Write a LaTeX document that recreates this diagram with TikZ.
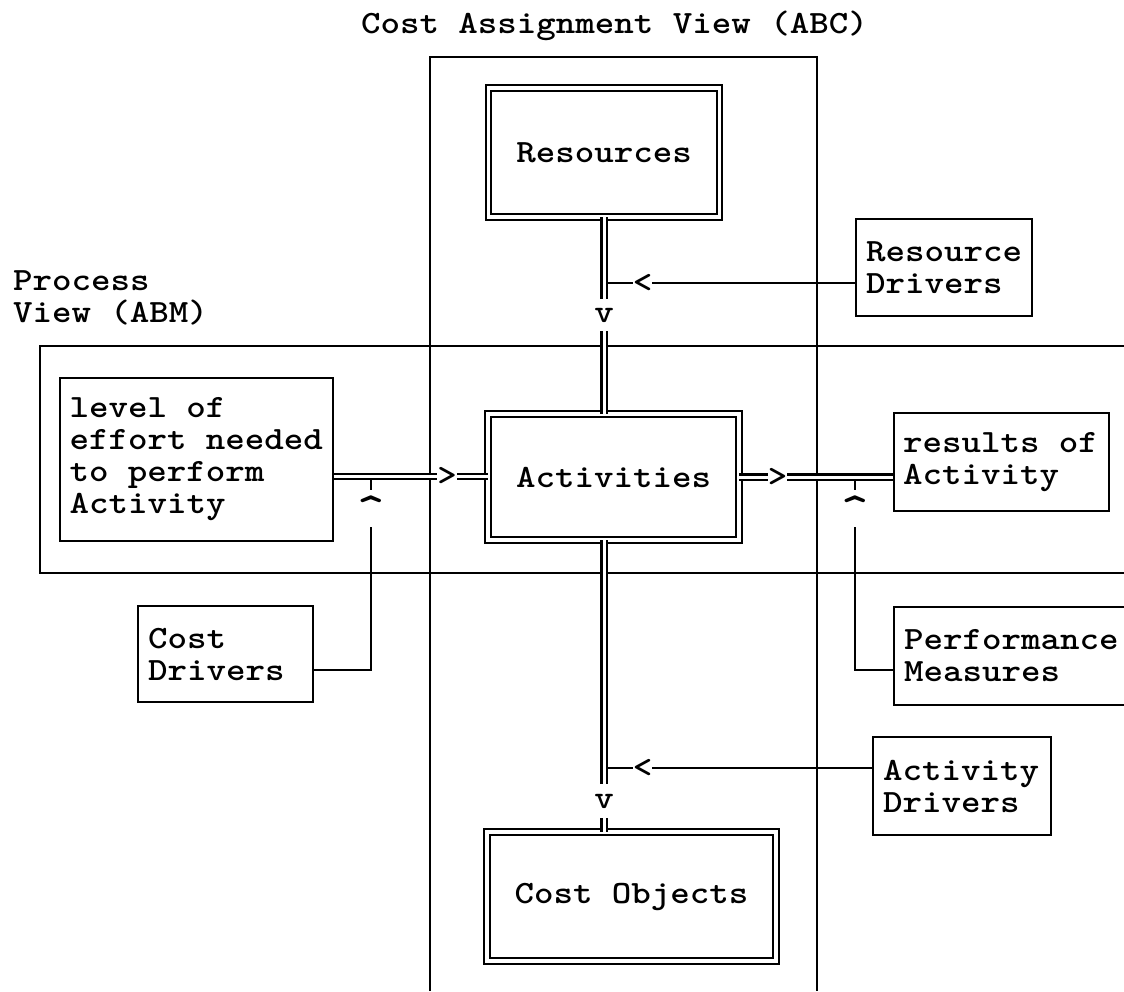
\documentclass[tikz,border=0pt]{standalone}
\usepackage{fontspec}
\newfontfamily\monoface{lmmonolt10-bold.otf}[FakeStretch=1.1429]
\newcommand{\cfont}{\monoface\fontsize{32.5}{32}\selectfont}
\newcommand{\caretfont}{\monoface\fontsize{46}{46}\selectfont}
\newcommand{\monospacing}{\spaceskip=19.5pt\relax\xspaceskip=19.5pt\relax}
\tikzset{
  txt/.style={font=\cfont, inner sep=0pt, outer sep=0pt,
    execute at begin node=\monospacing},
  glyph/.style={font=\cfont, inner sep=0pt, outer sep=0pt},
  caret/.style={font=\caretfont, inner sep=0pt, outer sep=0pt, anchor=north},
  frame/.style={line width=2pt},
  wire/.style={line width=2pt},
  dwire/.style={double, line width=2.2pt, double distance=3pt},
  sbox/.style={draw, line width=2pt, font=\cfont, align=left, inner xsep=10pt,
    inner ysep=0pt, outer sep=0pt, anchor=north west,
    execute at begin node=\monospacing},
  dbox/.style={draw, double, line width=2.2pt, double distance=3.2pt, font=\cfont,
    inner sep=0pt, outer sep=0pt, execute at begin node=\monospacing},
}
\begin{document}
\begin{tikzpicture}[x=1pt, y=-1pt]
\useasboundingbox (0,0) rectangle (1124,991);
\clip (0,0) rectangle (1124,991);

% the two views
\draw[frame] (429.5,991) -- (429.5,57) -- (817,57) -- (817,991);
\draw[frame] (1124,346) -- (40,346) -- (40,573) -- (1124,573);
\node[txt, anchor=base west] (abc) at (361,33) {Cost Assignment View (ABC)};
\node[txt, anchor=north west, align=left] (abm) at (13,271) {Process\\View (ABM)};

% main chain
\node[dbox, minimum width=231pt, minimum height=129pt] (res) at (604,152.5) {Resources};
\node[dbox, minimum width=251pt, minimum height=126pt] (act) at (613.5,477) {Activities};
\node[dbox, minimum width=289pt, minimum height=129pt] (cobj) at (631.5,896.5) {Cost Objects};

% side boxes
\node[sbox, text width=156pt, minimum height=97pt] (rdrv) at (856,219) {Resource\\Drivers};
\node[sbox, inner xsep=9.5pt, text width=254pt, minimum height=163pt] (effort) at (60,378) {level of\\effort needed\\to perform\\Activity};
\node[sbox, text width=155pt, minimum height=96pt] (cdrv) at (138,606) {Cost\\Drivers};
\node[sbox, inner xsep=9pt, text width=197pt, minimum height=98pt] (results) at (894,413) {results of\\Activity};
\node[sbox, text width=230pt, minimum height=98pt] (perf) at (894,607) {Performance\\Measures};
\node[sbox, text width=158pt, minimum height=98pt] (adrv) at (873,737) {Activity\\Drivers};

% arrow glyphs
\node[glyph, inner ysep=9pt] (vres) at (604,315) {v};
\node[glyph, inner ysep=10pt] (vact) at (604,801) {v};
\node[glyph] (ltres) at (642.5,283) {<};
\node[glyph] (ltact) at (642.5,768) {<};
\node[glyph] (gtin) at (447,476.5) {>};
\node[glyph] (gtout) at (777.5,477) {>};
\node[caret] (upin) at (371,496) {\textasciicircum};
\node[caret] (upout) at (855,496) {\textasciicircum};

% driver feeds (single lines)
\draw[wire] (rdrv.west |- ltres) -- (ltres.east);
\draw[wire] (ltres.west) -- (ltres.west -| res.south);
\draw[wire] (adrv.west |- ltact) -- (ltact.east);
\draw[wire] (ltact.west) -- (ltact.west -| vact);

\coordinate (instub) at (371,490);
\coordinate (infoot) at (371,527);
\coordinate (cdj) at (371,670);
\draw[wire] (instub |- gtin) -- (instub);
\draw[wire] (cdrv.east |- cdj) -- (cdj) -- (infoot);

\coordinate (outstub) at (855,490);
\coordinate (outfoot) at (855,527);
\coordinate (pmj) at (855,670);
\draw[wire] (outstub |- gtout) -- (outstub);
\draw[wire] (perf.west |- pmj) -- (pmj) -- (outfoot);

% flows (double lines)
\draw[dwire] (res.south) -- (vres.north);
\draw[dwire] (vres.south) -- (vres.south |- act.north);
\draw[dwire] (act.south -| vact) -- (vact.north);
\draw[dwire] (vact.south) -- (vact.south |- cobj.north);
\draw[dwire, shorten <=1pt] (effort.east |- gtin) -- (gtin.west);
\draw[dwire] (gtin.east) -- (gtin.east -| act.west);
\draw[dwire] (act.east |- gtout) -- (gtout.west);
\draw[dwire, shorten >=1pt] (gtout.east) -- (gtout.east -| results.west);
\end{tikzpicture}
\end{document}
